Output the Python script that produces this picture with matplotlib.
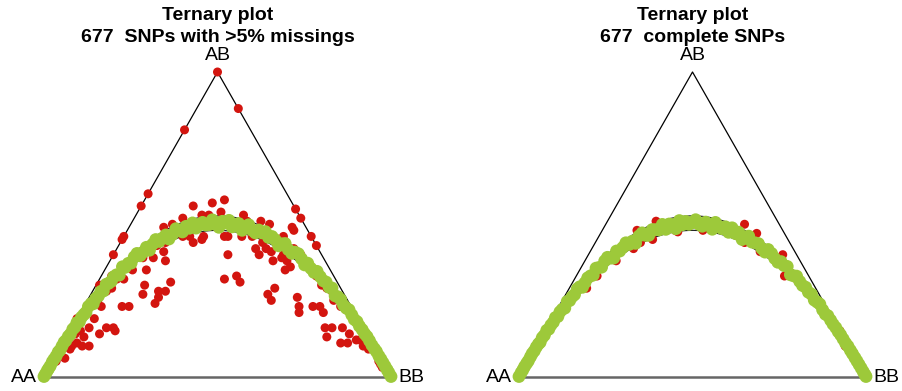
import numpy as np
import matplotlib.pyplot as plt

# genotype proportions (heterozygote AB, homozygote BB); AA = 1 - AB - BB
left_red_ab = [1.00, 0.88, 0.81, 0.60, 0.56, 0.46, 0.45, 0.40, 0.55, 0.52, 0.46, 0.43, 0.49,
               0.56, 0.57, 0.58, 0.54, 0.52, 0.49, 0.46, 0.49, 0.46, 0.46, 0.46, 0.46, 0.51,
               0.51, 0.40, 0.40, 0.42, 0.46, 0.40, 0.35, 0.38, 0.32, 0.33, 0.31, 0.27, 0.29,
               0.25, 0.26, 0.21, 0.23, 0.21, 0.16, 0.16, 0.13, 0.16, 0.12, 0.11, 0.09, 0.10,
               0.05, 0.03, 0.31, 0.28, 0.30, 0.27, 0.24, 0.23, 0.23, 0.25, 0.28, 0.30, 0.25,
               0.23, 0.19, 0.16, 0.16, 0.15, 0.14, 0.13, 0.11, 0.10, 0.09, 0.10, 0.10, 0.06,
               0.05, 0.05, 0.39, 0.39, 0.42, 0.43, 0.44, 0.46, 0.41, 0.36, 0.32, 0.35, 0.33,
               0.30, 0.28, 0.23, 0.19, 0.15, 0.14, 0.12, 0.42, 0.40, 0.36, 0.33, 0.30, 0.29,
               0.28, 0.25, 0.23, 0.22, 0.36, 0.38, 0.14, 0.12, 0.11, 0.04, 0.53, 0.53, 0.50,
               0.46, 0.44, 0.45, 0.46, 0.53, 0.50, 0.44, 0.42, 0.41, 0.43, 0.40, 0.39, 0.48,
               0.23, 0.23, 0.11, 0.28, 0.26, 0.38, 0.35, 0.32, 0.29, 0.16, 0.50]
left_red_bb = [0.00, 0.12, 0.00, 0.00, 0.00, 0.00, 0.00, 0.00, 0.45, 0.48, 0.54, 0.57, 0.47,
               0.15, 0.20, 0.23, 0.24, 0.14, 0.10, 0.17, 0.19, 0.23, 0.30, 0.34, 0.37, 0.37,
               0.33, 0.33, 0.42, 0.43, 0.46, 0.51, 0.52, 0.47, 0.36, 0.39, 0.41, 0.51, 0.52,
               0.53, 0.60, 0.63, 0.66, 0.70, 0.73, 0.75, 0.75, 0.78, 0.84, 0.82, 0.89, 0.87,
               0.94, 0.96, 0.21, 0.19, 0.14, 0.15, 0.20, 0.13, 0.11, 0.03, 0.04, 0.04, 0.02,
               0.05, 0.05, 0.05, 0.10, 0.13, 0.09, 0.05, 0.04, 0.03, 0.03, 0.06, 0.08, 0.03,
               0.01, 0.00, 0.09, 0.12, 0.09, 0.11, 0.13, 0.13, 0.14, 0.05, 0.07, 0.12, 0.03,
               0.01, 0.02, 0.01, 0.00, 0.03, 0.02, 0.01, 0.51, 0.54, 0.58, 0.62, 0.65, 0.67,
               0.69, 0.71, 0.74, 0.76, 0.53, 0.51, 0.81, 0.85, 0.87, 0.95, 0.19, 0.21, 0.19,
               0.19, 0.21, 0.23, 0.29, 0.31, 0.40, 0.41, 0.40, 0.45, 0.47, 0.49, 0.49, 0.48,
               0.62, 0.68, 0.80, 0.21, 0.20, 0.16, 0.08, 0.05, 0.05, 0.12, 0.12]

right_red_ab = [0.48, 0.45, 0.42, 0.38, 0.29, 0.21, 0.12, 0.01, 0.02, 0.475, 0.48, 0.48, 0.51,
                0.50, 0.44, 0.41, 0.38, 0.33, 0.32, 0.30, 0.245, 0.15, 0.02, 0.10, 0.05,
                0.33, 0.44, 0.49, 0.47, 0.25, 0.40]
right_red_bb = [0.10, 0.16, 0.12, 0.09, 0.05, 0.01, 0.00, 0.00, 0.00, 0.22, 0.21, 0.29, 0.14,
                0.40, 0.43, 0.49, 0.55, 0.60, 0.64, 0.67, 0.74, 0.85, 0.98, 0.89, 0.95,
                0.06, 0.13, 0.30, 0.45, 0.73, 0.56]

# B allele frequency of the SNPs lying along the Hardy-Weinberg curve
left_green_q = [0.000, 0.004, 0.009, 0.013, 0.018, 0.024, 0.029, 0.035, 0.041, 0.046, 0.052,
                0.058, 0.063, 0.070, 0.076, 0.083, 0.089, 0.095, 0.102, 0.108, 0.115, 0.121,
                0.128, 0.136, 0.142, 0.149, 0.157, 0.164, 0.171, 0.179, 0.186, 0.194, 0.201,
                0.209, 0.217, 0.226, 0.234, 0.243, 0.251, 0.260, 0.268, 0.277, 0.286, 0.295,
                0.304, 0.313, 0.322, 0.332, 0.341, 0.351, 0.360, 0.370, 0.380, 0.389, 0.399,
                0.409, 0.419, 0.428, 0.438, 0.447, 0.457, 0.466, 0.476, 0.485, 0.495, 0.504,
                0.514, 0.523, 0.533, 0.542, 0.552, 0.561, 0.571, 0.580, 0.590, 0.600, 0.609,
                0.619, 0.628, 0.638, 0.647, 0.657, 0.666, 0.676, 0.685, 0.695, 0.704, 0.714,
                0.723, 0.733, 0.742, 0.751, 0.760, 0.769, 0.778, 0.787, 0.796, 0.805, 0.813,
                0.822, 0.830, 0.839, 0.847, 0.855, 0.863, 0.871, 0.879, 0.887, 0.894, 0.902,
                0.909, 0.917, 0.924, 0.931, 0.938, 0.945, 0.952, 0.958, 0.965, 0.971, 0.977,
                0.983, 0.989, 0.994, 1.000]
# heterozygote excess over HWE expectation, in % of 2pq
left_green_dev = [1, -1, 2, 0, -2, 3, 1, -1, 2, -2,
                  1, 3, 0, 1, -1, 2, 0, 3, -2, 1,
                  0, -1, 3, 2, -2, 1, 0, 2, -1, 3,
                  1, 0, 2, 1, -2, 3, 0, 1, -1, 2,
                  3, -1, 0, 2, -2, 1, 3, 0, 1, 2,
                  -2, 0, 3, 1, -1, 2, 0, 3, -1, 1,
                  2, 0, 0, 3, 1, -2, 2, 1, 3, -1,
                  0, 2, -2, 1, 3, 0, -1, 2, 1, 3,
                  0, 2, 1, -2, 1, 3, 0, -1, 2, 3,
                  1, -2, 2, 0, -1, 3, 1, 0, 2, 0,
                  3, -2, 1, 2, -1, 0, 3, 1, -1, 2,
                  0, 1, 0, 2, 1, -1, 0, 2, 0, 1,
                  0, 0, 0, 0, 0]

right_green_q = [0.000, 0.006, 0.011, 0.016, 0.022, 0.027, 0.033, 0.038, 0.044, 0.050, 0.056,
                 0.061, 0.067, 0.073, 0.080, 0.086, 0.092, 0.099, 0.105, 0.112, 0.118, 0.125,
                 0.132, 0.139, 0.146, 0.153, 0.160, 0.168, 0.175, 0.183, 0.190, 0.198, 0.206,
                 0.214, 0.222, 0.230, 0.238, 0.247, 0.255, 0.264, 0.273, 0.281, 0.290, 0.299,
                 0.308, 0.318, 0.327, 0.336, 0.346, 0.355, 0.365, 0.374, 0.384, 0.394, 0.404,
                 0.413, 0.423, 0.433, 0.443, 0.452, 0.462, 0.471, 0.481, 0.490, 0.500, 0.509,
                 0.519, 0.528, 0.538, 0.547, 0.557, 0.566, 0.576, 0.585, 0.595, 0.604, 0.614,
                 0.624, 0.633, 0.643, 0.652, 0.662, 0.671, 0.681, 0.690, 0.700, 0.709, 0.718,
                 0.728, 0.737, 0.746, 0.755, 0.764, 0.773, 0.782, 0.791, 0.800, 0.809, 0.817,
                 0.826, 0.834, 0.843, 0.851, 0.859, 0.867, 0.875, 0.883, 0.890, 0.898, 0.905,
                 0.913, 0.920, 0.927, 0.934, 0.941, 0.948, 0.955, 0.961, 0.968, 0.974, 0.980,
                 0.986, 0.992, 0.997, 1.000]
right_green_dev = [0, 2, -1, 3, 0, -2, 1, 3, 0, 2,
                   1, -2, 2, 0, 3, -1, 1, 0, 3, -1,
                   2, 1, -2, 3, 0, 1, 0, 3, 2, -2,
                   0, 2, 1, -1, 3, 1, -1, 2, 3, 0,
                   -2, 2, 0, 1, 3, 0, 1, -2, 2, 3,
                   0, -1, 2, 1, 0, 3, -1, 2, 1, -2,
                   3, 0, 2, 0, 1, 3, 0, -1, 2, 1,
                   -2, 3, 1, 0, 2, -1, 3, 0, 2, -2,
                   1, 3, 0, 1, 2, 0, -1, 3, 2, 0,
                   -1, 2, 1, 3, -2, 0, 3, 1, 0, 2,
                   0, 2, -1, 1, 3, 0, -1, 2, 1, 0,
                   1, 0, 1, 0, -1, 1, 0, 0, 0, 0,
                   0, 0, 0, 0, 0]

titles = ["Ternary plot\n677  SNPs with >5% missings", "Ternary plot\n677  complete SNPs"]

RED = '#d3150f'
GREEN = '#9dc93a'
H = np.sqrt(3) / 2


def to_xy(ab, bb):
    ab = np.asarray(ab, dtype=float)
    bb = np.asarray(bb, dtype=float)
    return bb + ab / 2, ab * H


def green_genotypes(q, dev):
    # AB from HWE expectation plus the listed excess; x position stays at q
    q = np.asarray(q, dtype=float)
    ab = 2 * q * (1 - q) * (1 + np.asarray(dev, dtype=float) / 100)
    bb = q - ab / 2
    return ab, bb


fig = plt.figure(figsize=(9.02, 3.91), dpi=100)
plt.rcParams['font.family'] = ['Liberation Sans', 'DejaVu Sans']

panels = [
    (44, left_red_ab, left_red_bb, left_green_q, left_green_dev, titles[0]),
    (519, right_red_ab, right_red_bb, right_green_q, right_green_dev, titles[1]),
]

for x0, red_ab, red_bb, green_q, green_dev, title in panels:
    ax = fig.add_axes([x0 / 902, 14.5 / 391, 347 / 902, 304.5 / 391])
    ax.set_xlim(0, 1)
    ax.set_ylim(0, H)
    ax.axis('off')

    # triangle
    ax.plot([0, 0.5, 1], [0, H, 0], color='black', lw=0.9, clip_on=False, zorder=1)
    ax.plot([0, 1], [0, 0], color='#666666', lw=1.8, clip_on=False, zorder=1)

    # acceptance limits around the HWE curve
    qq = np.linspace(0, 1, 300)
    for f in (1.055, 0.96):
        ax.plot(qq, 2 * qq * (1 - qq) * f * H, color='#222222', lw=0.9, zorder=2)

    rx, ry = to_xy(red_ab, red_bb)
    ax.scatter(rx, ry, s=42, color=RED, edgecolors='none', clip_on=False, zorder=3)

    g_ab, g_bb = green_genotypes(green_q, green_dev)
    gx, gy = to_xy(g_ab, g_bb)
    ax.scatter(gx, gy, s=85, color=GREEN, edgecolors='none', clip_on=False, zorder=4)

    ax.text(0.5, H + 0.047, 'AB', ha='center', va='center', fontsize=14)
    ax.text(-0.02, -0.003, 'AA', ha='right', va='center', fontsize=14)
    ax.text(1.02, -0.003, 'BB', ha='left', va='center', fontsize=14)

    cx = (x0 + 174) / 902
    line1, line2 = title.split('\n')
    fig.text(cx, 1 - 15 / 391, line1, ha='center', va='center',
             fontsize=14, fontweight='bold')
    fig.text(cx, 1 - 38 / 391, line2, ha='center', va='center',
             fontsize=14, fontweight='bold')

fig.savefig('out.png', dpi=100)
